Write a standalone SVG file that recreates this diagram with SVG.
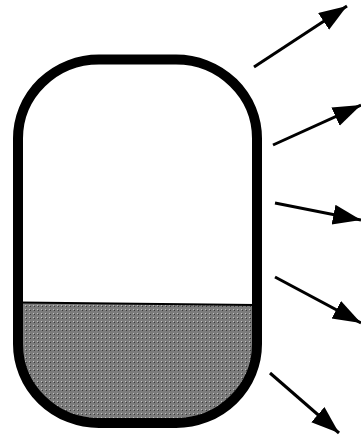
<svg xmlns="http://www.w3.org/2000/svg" width="361" height="435" viewBox="0 0 361 435">
<style>
.vessel{fill:none;stroke:#000;stroke-width:10}
.surface{fill:none;stroke:#000;stroke-width:2}
.arrow{fill:none;stroke:#000;stroke-width:3;marker-end:url(#ah)}
</style>
<defs>
<marker id="ah" markerUnits="userSpaceOnUse" markerWidth="30" markerHeight="22" refX="28" refY="10" orient="auto">
<path d="M0,0 L28,10 L0,20 Z" fill="#000"/>
</marker>
<pattern id="dots" patternUnits="userSpaceOnUse" width="4" height="4">
<rect width="4" height="4" fill="#7c7c7c"/>
<rect x="1" y="1" width="1" height="1" fill="#c0c0c0"/>
<rect x="2" y="2" width="1" height="1" fill="#3a3a3a"/>
</pattern>
<clipPath id="inside">
<rect x="18" y="59.5" width="239" height="363.5" rx="81" ry="79"/>
</clipPath>
</defs>
<g id="liquid">
<polygon points="18,302.5 257,305 257,430 18,430" fill="url(#dots)" clip-path="url(#inside)"/>
<line class="surface" x1="20" y1="302.5" x2="255" y2="305"/>
</g>
<g id="vessel">
<rect class="vessel" x="18" y="59.5" width="239" height="363.5" rx="81" ry="79"/>
</g>
<g id="connectors">
<line class="arrow" x1="254" y1="67" x2="347" y2="6"/>
<line class="arrow" x1="273" y1="145" x2="361" y2="105"/>
<line class="arrow" x1="275" y1="203" x2="361" y2="220"/>
<line class="arrow" x1="275" y1="277" x2="361" y2="323"/>
<line class="arrow" x1="270" y1="373" x2="339" y2="433"/>
</g>
</svg>
